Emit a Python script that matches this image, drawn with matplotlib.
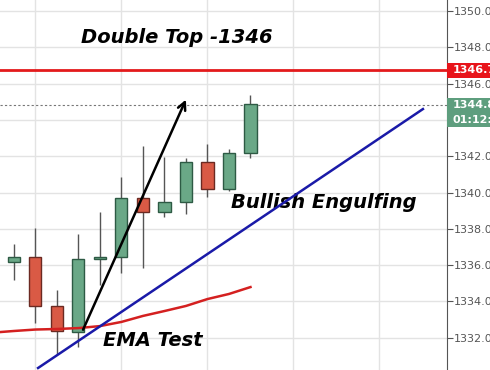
import matplotlib
matplotlib.use("Agg")
import matplotlib.pyplot as plt
import matplotlib.transforms as mtransforms
from matplotlib.patches import Rectangle

# candle data (index, open, high, low, close)
idx = [0, 1, 2, 3, 4, 5, 6, 7, 8, 9, 10, 11]
opens = [1336.17, 1336.45, 1333.75, 1332.31, 1336.34, 1336.45,
         1339.70, 1338.93, 1339.48, 1341.68, 1340.19, 1342.18]
highs = [1337.16, 1338.04, 1334.63, 1337.71, 1338.93, 1340.85,
         1342.56, 1341.96, 1341.90, 1342.67, 1342.40, 1345.37]
lows = [1335.18, 1332.81, 1331.10, 1331.49, 1334.90, 1335.56,
        1335.84, 1338.65, 1338.82, 1339.75, 1340.08, 1341.90]
closes = [1336.45, 1333.75, 1332.37, 1336.34, 1336.45, 1339.70,
          1338.93, 1339.48, 1341.68, 1340.19, 1342.18, 1344.88]

# EMA curve
ema_x = [-0.65, 0, 1, 2, 3, 4, 5, 6, 7, 8, 9, 10, 11]
ema_y = [1332.31, 1332.37, 1332.45, 1332.48, 1332.53, 1332.64, 1332.87,
         1333.20, 1333.47, 1333.75, 1334.13, 1334.41, 1334.79]

# trend line and arrow
trend_x = [1.12, 19.02]
trend_y = [1330.33, 1344.60]
arrow_start = (3.16, 1332.3)
arrow_end = (8.05, 1345.26)

resistance = 1346.75
last_price = 1344.85
countdown = "01:12:54"
yticks = [1332, 1334, 1336, 1338, 1340, 1342, 1344, 1346, 1348, 1350]
xgrid = [1, 5, 9, 13, 17]

fig = plt.figure(figsize=(4.9, 3.7), dpi=100)
ax = fig.add_axes([0, 0, 447 / 490, 1])
ax.set_xlim(-0.65, 20.14)
ax.set_ylim(1330.22, 1350.61)

for s in ["left", "top", "bottom"]:
    ax.spines[s].set_visible(False)
ax.spines["right"].set_color("#555555")
ax.yaxis.tick_right()
ax.set_yticks(yticks)
ax.set_yticklabels(["{:.2f}".format(v) for v in yticks])
ax.tick_params(axis="y", colors="#555555", labelcolor="#555555",
               labelsize=8, length=4, pad=1)
ax.set_xticks(xgrid)
ax.tick_params(axis="x", length=0, labelbottom=False)
ax.grid(True, color="#e3e3e3", linewidth=1)
ax.set_axisbelow(True)

# candles
for i, o, h, l, c in zip(idx, opens, highs, lows, closes):
    up = c >= o
    fc = "#6aa887" if up else "#d95a45"
    ec = "#2d5a44" if up else "#6b2a22"
    ax.vlines(i, l, h, color="#555555", linewidth=1, zorder=2)
    ax.bar(i, abs(c - o), bottom=min(o, c), width=0.56,
           color=fc, edgecolor=ec, linewidth=1, zorder=3)

ax.plot(ema_x, ema_y, color="#d42020", linewidth=1.8, zorder=4)
ax.plot(trend_x, trend_y, color="#1a1aa8", linewidth=1.8, zorder=4)
ax.axhline(resistance, color="#e31a1c", linewidth=2, zorder=4)
ax.axhline(last_price, color="#777777", linewidth=0.8,
           linestyle=(0, (2, 2)), zorder=2)
ax.annotate("", xy=arrow_end, xytext=arrow_start,
            arrowprops=dict(arrowstyle="->", color="black", lw=1.8,
                            mutation_scale=14),
            zorder=5)

font = dict(fontsize=14, fontweight="bold", fontstyle="italic",
            color="black", family="DejaVu Sans")
ax.text(3.12, 1348.24, "Double Top -1346", ha="left", va="baseline", **font)
ax.text(10.09, 1339.15, "Bullish Engulfing", ha="left", va="baseline", **font)
ax.text(4.14, 1331.54, "EMA Test", ha="left", va="baseline", **font)

# price labels on the right axis
trans = mtransforms.blended_transform_factory(ax.transAxes, ax.transData)
px = 18.15  # pixels per price unit
boxes = [
    (resistance, 7.5 / px, "#e8141a", "{:.2f}".format(resistance)),
    (1350 - (104.5 - 11) / px, 7.0 / px, "#5e9e7e", "{:.2f}".format(last_price)),
    (1350 - (119.5 - 11) / px, 7.5 / px, "#5e9e7e", countdown),
]
for yc, hh, col, label in boxes:
    ax.add_patch(Rectangle((1.0, yc - hh), 0.12, 2 * hh, transform=trans,
                           facecolor=col, edgecolor="none", clip_on=False,
                           zorder=6))
    ax.text(1.012, yc, label, transform=trans, ha="left", va="center",
            color="white", fontsize=8, fontweight="bold", clip_on=False,
            zorder=7)

fig.savefig("out.png", dpi=100)
